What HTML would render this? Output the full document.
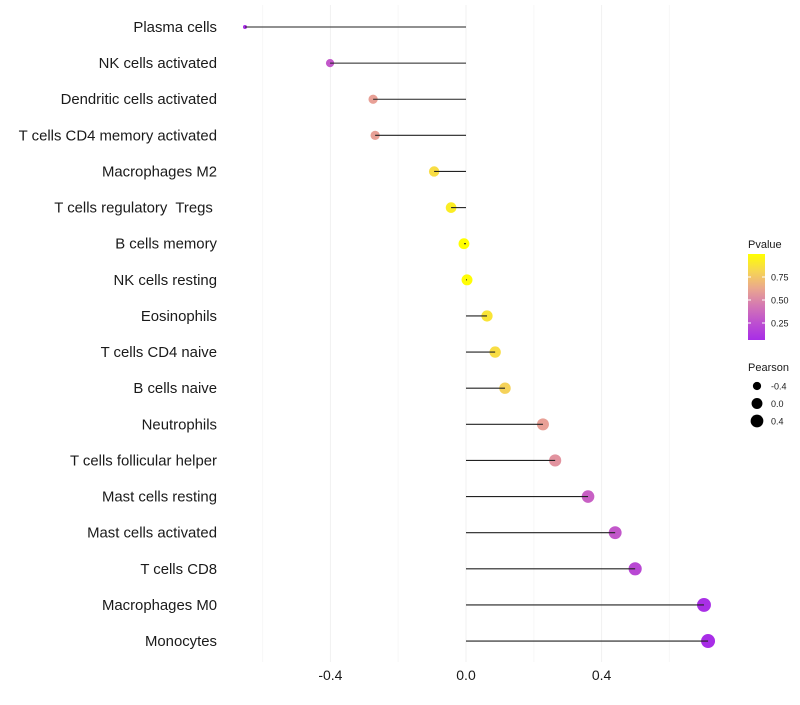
<!DOCTYPE html>
<html><head><meta charset="utf-8"><style>
body{margin:0;background:#fff}
svg text{font-family:"Liberation Sans",sans-serif;white-space:pre}
</style></head><body>
<svg id="c" width="800" height="700"></svg>
<script>
const categories=["Plasma cells","NK cells activated","Dendritic cells activated","T cells CD4 memory activated","Macrophages M2","T cells regulatory  Tregs ","B cells memory","NK cells resting","Eosinophils","T cells CD4 naive","B cells naive","Neutrophils","T cells follicular helper","Mast cells resting","Mast cells activated","T cells CD8","Macrophages M0","Monocytes"];
const pearson=[-0.652,-0.401,-0.274,-0.268,-0.094,-0.044,-0.006,0.003,0.062,0.086,0.115,0.227,0.263,0.36,0.44,0.499,0.702,0.714];
const pvalue=[0.07,0.3,0.6,0.6,0.85,0.92,1.0,0.99,0.88,0.85,0.8,0.6,0.55,0.35,0.3,0.22,0.08,0.07];
const xTicks=[-0.4,0,0.4];
const xTickLabels=["-0.4","0.0","0.4"];
const xMinor=[-0.6,-0.2,0.2,0.6];
const legendP=[0.75,0.5,0.25];
const legendR=[-0.4,0,0.4];

const NS="http://www.w3.org/2000/svg";
const svg=document.getElementById('c');
const x=v=>466+v*339;
const y=i=>27+i*36.12;
const r=v=>2+5*Math.sqrt(Math.max(0,(v+0.65)/1.37));
function col(p){
  const stops=[[0,[160,32,240]],[0.35,[200,96,196]],[0.6,[232,160,150]],[0.8,[245,210,90]],[1,[255,255,0]]];
  for(let k=1;k<stops.length;k++){if(p<=stops[k][0]){const a=stops[k-1],b=stops[k],t=(p-a[0])/(b[0]-a[0]);
    return `rgb(${a[1].map((c,j)=>Math.round(c+(b[1][j]-c)*t)).join(',')})`;}}
  return 'rgb(255,255,0)';
}
function mk(tag,attrs,parent){const e=document.createElementNS(NS,tag);for(const k in attrs)e.setAttribute(k,attrs[k]);(parent||svg).appendChild(e);return e;}

xMinor.forEach(v=>{const l=mk('line',{x1:x(v),x2:x(v),y1:5,y2:662,stroke:'#f7f7f7','stroke-width':1});

});
xTicks.forEach((v,i)=>{const l=mk('line',{x1:x(v),x2:x(v),y1:5,y2:662,stroke:'#f0f0f0','stroke-width':1});


const t=mk('text',{x:x(v),y:680,'text-anchor':'middle','font-size':14,fill:'#1a1a1a'});t.textContent=xTickLabels[i];

});

categories.forEach((c,i)=>{
  const t=mk('text',{x:217,y:y(i)+5,'text-anchor':'end','font-size':14.9,fill:'#1a1a1a'});t.textContent=c;
  
  
  const d=mk('circle',{cx:x(pearson[i]),cy:y(i),r:r(pearson[i]),fill:col(pvalue[i])});
  
  
  const l=mk('line',{x1:x(0),x2:x(pearson[i]),y1:y(i),y2:y(i),stroke:'#222','stroke-width':1.1});
  
  
});

const g=mk('g',{});
const defs=mk('defs',{});const lg=mk('linearGradient',{id:'pg',x1:0,y1:1,x2:0,y2:0},defs);
[0,0.2,0.4,0.6,0.8,1].forEach(o=>mk('stop',{offset:o,'stop-color':col(0.07+o*0.93)},lg));
let tt=mk('text',{x:748,y:248,'font-size':11,fill:'#1a1a1a'},g);tt.textContent='Pvalue';
mk('rect',{x:748,y:254,width:17,height:86,fill:'url(#pg)'},g);
const py=p=>346-p*92;
legendP.forEach(p=>{mk('line',{x1:748,x2:751,y1:py(p),y2:py(p),stroke:'#fff'},g);mk('line',{x1:762,x2:765,y1:py(p),y2:py(p),stroke:'#fff'},g);
const t=mk('text',{x:771,y:py(p)+3.5,'font-size':9,fill:'#1a1a1a'},g);t.textContent=p.toFixed(2);});
tt=mk('text',{x:748,y:371,'font-size':11,fill:'#1a1a1a'},g);tt.textContent='Pearson';
legendR.forEach((v,i)=>{mk('circle',{cx:757,cy:386+i*17.5,r:r(v),fill:'#000'},g);
const t=mk('text',{x:771,y:389.5+i*17.5,'font-size':9,fill:'#1a1a1a'},g);t.textContent=v.toFixed(1);});
</script>
</body></html>
